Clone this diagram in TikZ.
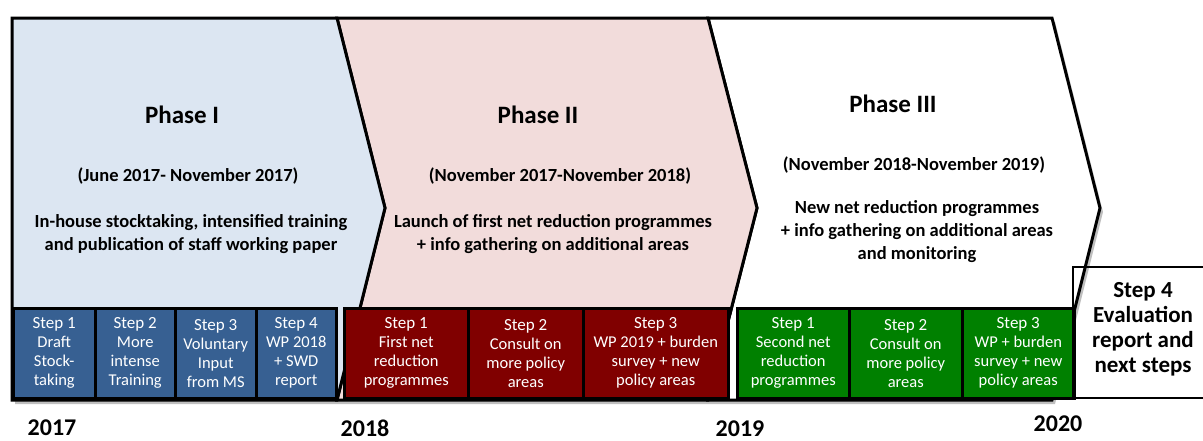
\documentclass[tikz,border=0pt]{standalone}
\usepackage{fontspec}
\setmainfont{Carlito}
\usetikzlibrary{positioning,calc}
\definecolor{phaseblue}{HTML}{DCE6F2}
\definecolor{phasered}{HTML}{F2DCDB}
\definecolor{stepblue}{HTML}{376092}
\definecolor{stepred}{HTML}{800000}
\definecolor{stepgreen}{HTML}{008000}
\tikzset{
	phase/.style={draw=black, line width=3pt, line join=miter},
	stepbox/.style={draw=black, line width=2.5pt, text=white, align=center, anchor=north west,
		inner sep=0pt, minimum height=90, font=\fontsize{16.5}{19}\selectfont},
	phasetitle/.style={font=\fontsize{25}{28}\selectfont\bfseries},
	phasetext/.style={font=\fontsize{18.5}{23}\selectfont\bfseries, align=center},
	year/.style={font=\fontsize{24}{26}\selectfont\bfseries, anchor=base, inner sep=1pt}
}
\newcommand{\stepline}[1]{{\fontsize{17}{19}\selectfont #1}}

\begin{document}
\begin{tikzpicture}[x=1pt, y=-1pt]
	\useasboundingbox (0,0) rectangle (1203,440);
	% shadow
	\fill[black!25] (15,22) -- (1055,22) -- (1103,212) -- (1055,404) -- (15,404) -- cycle;
	% chevrons
	\path[phase, fill=white] (708,18) -- (1052,18) -- (1100,208) -- (1052,400) -- (708,400) -- (757,208) -- cycle;
	\path[phase, fill=phasered] (337,18) -- (708,18) -- (757,208) -- (708,400) -- (337,400) -- (385,208) -- cycle;
	\path[phase, fill=phaseblue] (12,18) -- (337,18) -- (385,208) -- (337,400) -- (12,400) -- cycle;

	\node[phasetitle] (p1) at (182,115) {Phase I};
	\node[phasetext] (d1) at (188,176) {(June 2017- November 2017)};
	\node[phasetext] (t1) at (191,234) {In-house stocktaking, intensified training\\and publication of staff working paper};

	\node[phasetitle] (p2) at (538,115) {Phase II};
	\node[phasetext] (d2) at (560,176) {(November 2017-November 2018)};
	\node[phasetext] (t2) at (553,234) {Launch of first net reduction programmes\\+ info gathering on additional areas};

	\node[phasetitle] (p3) at (893,104) {Phase III};
	\node[phasetext] (d3) at (914,165) {(November 2018-November 2019)};
	\node[phasetext] (t3) at (917,232) {New net reduction programmes\\+ info gathering on additional areas\\and monitoring};

	% phase I steps
	\begin{scope}[every node/.append style={font=\fontsize{15}{19}\selectfont}]
	\node[stepbox, fill=stepblue, minimum width=82] (s11) at (12,307) {\stepline{Step 1}\\Draft\\Stock-\\taking};
	\node[stepbox, fill=stepblue, minimum width=80] (s12) at (94,307) {\stepline{Step 2}\\More\\intense\\Training};
	\node[stepbox, fill=stepblue, minimum width=81] (s13) at (174,307) {\stepline{Step 3}\\Voluntary\\Input\\from MS};
	\node[stepbox, fill=stepblue, minimum width=80] (s14) at (255,307) {\stepline{Step 4}\\WP 2018\\+ SWD\\report};
	\end{scope}

	% phase II steps
	\node[stepbox, fill=stepred, minimum width=124] (s21) at (343,307) {\stepline{Step 1}\\First net\\reduction\\programmes};
	\node[stepbox, fill=stepred, minimum width=115] (s22) at (467,307) {\stepline{Step 2}\\Consult on\\more policy\\areas};
	\node[stepbox, fill=stepred, minimum width=145] (s23) at (582,307) {\stepline{Step 3}\\WP 2019 + burden\\survey + new\\policy areas};

	% phase III steps
	\node[stepbox, fill=stepgreen, minimum width=112] (s31) at (736,307) {\stepline{Step 1}\\Second net\\reduction\\programmes};
	\node[stepbox, fill=stepgreen, minimum width=113] (s32) at (848,307) {\stepline{Step 2}\\Consult on\\more policy\\areas};
	\node[stepbox, fill=stepgreen, minimum width=112] (s33) at (961,307) {\stepline{Step 3}\\WP + burden\\survey + new\\policy areas};

	% final step
	\draw[line width=2pt] (1240,267) -- (1073,267) -- (1073,398) -- (1240,398);
	\node[align=center, font=\fontsize{23}{25}\selectfont\bfseries] (s4) at (1143,329) {Step 4\\Evaluation\\report and\\next steps};

	% years
	\node[year] (y17) at (52,435) {2017};
	\node[year] (y18) at (365,436) {2018};
	\node[year] (y19) at (740,436) {2019};
	\node[year] (y20) at (1058,431) {2020};
\end{tikzpicture}
\end{document}
